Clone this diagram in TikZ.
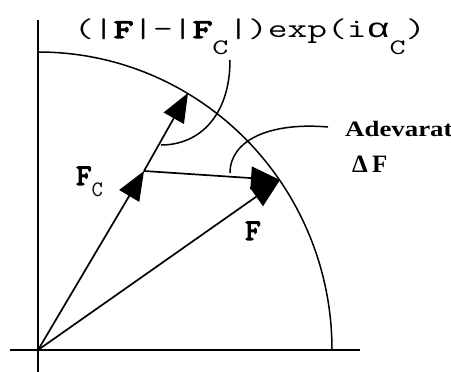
\documentclass[tikz,border=0pt]{standalone}
\usepackage{fontspec}
\usetikzlibrary{arrows.meta}
\newfontfamily\monof{Latin Modern Mono}
\newfontfamily\monobf{Latin Modern Mono}[FakeBold=4]
\newfontfamily\greekmono{Liberation Mono}
\newfontfamily\seriff{Liberation Serif}
\newcommand{\mysubc}[1]{\raisebox{-#1}{\monof\fontsize{22}{22}\selectfont C}}
\newcommand{\bF}{{\monobf F}}
\begin{document}
\begin{tikzpicture}[x=1pt,y=1pt,
  axis/.style={line width=1.6pt},
  curve/.style={line width=1.5pt},
  vec/.style={line width=1.7pt,-{Triangle[length=29pt,width=23pt]}},
  lbl/.style={inner sep=0pt,anchor=base west}]
\useasboundingbox (0,0) rectangle (451,372);
\coordinate (O) at (38,22);
\coordinate (ytop) at (38,352);
\coordinate (ybot) at (38,0);
\coordinate (xl) at (10,22);
\coordinate (xr) at (360,22);
\coordinate (Fc) at (144,201);
\coordinate (U) at (188,279);
\coordinate (F) at (280,192);
\coordinate (arcstart) at (332,22);
% axes
\draw[axis] (ybot) -- (ytop);
\draw[axis] (xl) -- (xr);
% circle
\draw[curve] (arcstart) arc[start angle=0,end angle=90,x radius=294pt,y radius=298pt];
% vectors
\draw[vec] (O) -- (Fc);
\draw[vec] (O) -- (F);
\draw[vec] (Fc) -- (U);
\draw[vec] (Fc) -- (F);
% annotation curves
\coordinate (a1s) at (230,312);
\coordinate (a1e) at (161,227);
\coordinate (a2s) at (328,245);
\coordinate (a2e) at (230,199);
\draw[curve] (a1s) .. controls (230,257) and (200,227) .. (a1e);
\draw[curve] (a2s) .. controls (270,250) and (230,232) .. (a2e);
% labels
\node[lbl] (top) at (74,334) {\scalebox{1.42}[1]{\monof\fontsize{27}{27}\selectfont (|\bF|-|\bF\mysubc{17pt}|)exp(i{\greekmono α}\mysubc{17pt})}};
\node[lbl] (fcl) at (76,187) {\monobf\fontsize{30}{30}\selectfont F\mysubc{12pt}};
\node[lbl,anchor=base] (fl) at (253,132) {\monobf\fontsize{30}{30}\selectfont F};
\node[lbl] (adv) at (345,235) {\scalebox{1.22}[1]{\seriff\fontsize{22}{22}\selectfont\bfseries Adevarat}};
\node[lbl] (df) at (352,199) {\seriff\fontsize{25}{25}\selectfont\bfseries Δ\,F};
\end{tikzpicture}
\end{document}
